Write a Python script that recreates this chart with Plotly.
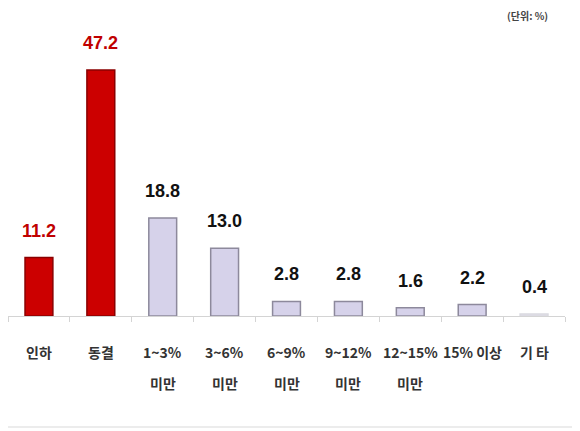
import plotly.graph_objects as go

# Data (unit: %)
categories = ["인하", "동결", "1~3% 미만", "3~6% 미만", "6~9% 미만",
              "9~12% 미만", "12~15% 미만", "15% 이상", "기 타"]
values = [11.2, 47.2, 18.8, 13.0, 2.8, 2.8, 1.6, 2.2, 0.4]
label_line1 = ["인하", "동결", "1~3%", "3~6%", "6~9%", "9~12%", "12~15%", "15% 이상", "기 타"]
label_line2 = ["", "", "미만", "미만", "미만", "미만", "미만", "", ""]
highlighted = ["인하", "동결"]

RED = "#cc0000"
RED_EDGE = "#8a0000"
LAV = "#d6d2ea"
LAV_EDGE = "#8d899c"

fill = [RED if c in highlighted else LAV for c in categories]
edge = [RED_EDGE if c in highlighted else LAV_EDGE for c in categories]
# the tiny "기타" bar is almost invisible in the original
edge[-1] = "#d9d9e0"
fill[-1] = "#e4e2ec"

fig = go.Figure()
fig.add_trace(
    go.Bar(
        x=categories,
        y=values,
        marker=dict(color=fill, line=dict(color=edge, width=1.5)),
        hoverinfo="x+y",
    )
)

annotations = []
# value labels above bars
for cat, val in zip(categories, values):
    color = "#c00000" if cat in highlighted else "#111111"
    annotations.append(dict(
        x=cat, y=val, xref="x", yref="y",
        text=f"<b>{val:.1f}</b>", showarrow=False,
        yanchor="middle", yshift=27,
        font=dict(family="Liberation Sans, Arial", size=18, color=color),
    ))

# category labels, two rows with the wide spacing of the original
for cat, l1, l2 in zip(categories, label_line1, label_line2):
    annotations.append(dict(
        x=cat, y=0, xref="x", yref="y", text=f"<b>{l1}</b>", showarrow=False,
        yanchor="middle", yshift=-36,
        font=dict(family="Noto Sans CJK KR", size=14, color="#333333"),
    ))
    if l2:
        annotations.append(dict(
            x=cat, y=0, xref="x", yref="y", text=f"<b>{l2}</b>", showarrow=False,
            yanchor="middle", yshift=-67,
            font=dict(family="Noto Sans CJK KR", size=14, color="#333333"),
        ))

# unit note
annotations.append(dict(
    x=0.932, y=0.984, xref="paper", yref="paper", text="<b>(단위: %)</b>",
    showarrow=False, xanchor="center", yanchor="middle",
    font=dict(family="Noto Sans CJK KR", size=10, color="#444444"),
))

fig.update_layout(
    width=572,
    height=423,
    margin=dict(l=0, r=15, t=3, b=115),
    paper_bgcolor="white",
    plot_bgcolor="white",
    showlegend=False,
    bargap=0.55,
    xaxis=dict(
        showticklabels=False,
        showline=True,
        linecolor="#d4d4d4",
        linewidth=1,
        ticks="outside",
        tickson="boundaries",
        ticklen=5,
        tickcolor="#d4d4d4",
        showgrid=False,
    ),
    yaxis=dict(
        range=[0, 58.5],
        visible=False,
        showgrid=False,
        zeroline=False,
    ),
    annotations=annotations,
    shapes=[dict(
        type="line", xref="paper", yref="paper",
        x0=-0.015, x1=1.03, y0=-0.364, y1=-0.364,
        line=dict(color="#ececec", width=2),
    )],
)

fig.write_html("out.html")
